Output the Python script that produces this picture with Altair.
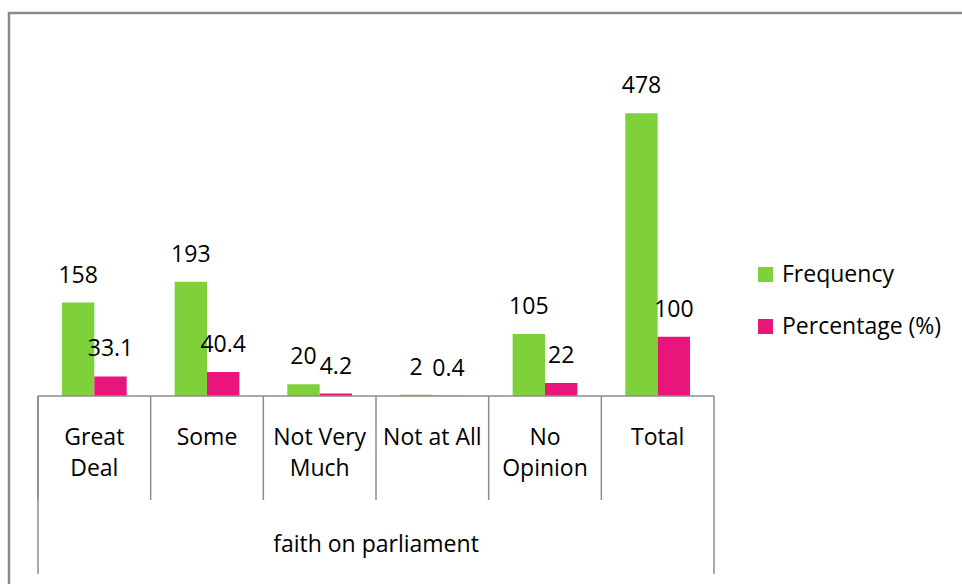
import altair as alt
import pandas as pd

categories = ["Great Deal", "Some", "Not Very Much", "Not at All", "No Opinion", "Total"]
category_lines = [["Great", "Deal"], ["Some"], ["Not Very", "Much"], ["Not at All"], ["No", "Opinion"], ["Total"]]
series = ["Frequency", "Percentage (%)"]
frequency = [158, 193, 20, 2, 105, 478]
percentage = [33.1, 40.4, 4.2, 0.4, 22, 100]
group_title = "faith on parliament"

FONT = "Open Sans"
FS = 23
GRAY = "#8c8c8c"
W, H = 676, 355

rows = []
for c, f, p in zip(categories, frequency, percentage):
    rows.append({"category": c, "series": series[0], "value": f, "label": f"{f:g}"})
    rows.append({"category": c, "series": series[1], "value": p, "label": f"{p:g}"})
df = pd.DataFrame(rows)
cat_df = pd.DataFrame({"category": categories, "lines": category_lines})

xscale = alt.Scale(domain=categories, paddingInner=0, paddingOuter=0)
yscale = alt.Scale(domain=[0, 600])
x_plain = alt.X("category:N", scale=xscale, axis=None)
xoff = alt.XOffset("series:N", scale=alt.Scale(domain=series, paddingInner=0, paddingOuter=0.74))

bars = alt.Chart(df).mark_bar().encode(
    x=x_plain,
    xOffset=xoff,
    y=alt.Y("value:Q", scale=yscale, axis=None),
    color=alt.Color("series:N", scale=alt.Scale(domain=series, range=["#7FD13B", "#EA157A"]),
                    legend=alt.Legend(orient="none", legendX=716, legendY=222, title=None,
                                      symbolType="square", symbolSize=225, symbolStrokeWidth=0,
                                      labelFont=FONT, labelFontSize=FS, labelColor="#000000",
                                      rowPadding=28, padding=0, labelOffset=5)),
)

labels = alt.Chart(df).mark_text(font=FONT, fontSize=FS, color="#000000", baseline="middle", dy=-27).encode(
    x=x_plain,
    xOffset=xoff,
    y=alt.Y("value:Q", scale=yscale, axis=None),
    text="label:N",
)

cat_text = alt.Chart(cat_df).mark_text(font=FONT, fontSize=FS, color="#000000", baseline="middle",
                                       lineHeight=31).encode(
    x=x_plain,
    y=alt.value(H + 42),
    text="lines",
)

seps = alt.Chart(cat_df).mark_rule(color=GRAY, strokeWidth=1.5).encode(
    x=alt.X("category:N", scale=xscale, bandPosition=0, axis=None),
    y=alt.value(H),
    y2=alt.value(H + 104),
)

one = alt.Data(values=[{"a": 1}])
outer_left = alt.Chart(one).mark_rule(color=GRAY, strokeWidth=1.5).encode(
    x=alt.value(0), y=alt.value(H), y2=alt.value(H + 178))
outer_right = alt.Chart(one).mark_rule(color=GRAY, strokeWidth=1.5).encode(
    x=alt.value(W), y=alt.value(H), y2=alt.value(H + 178))
baseline = alt.Chart(one).mark_rule(color=GRAY, strokeWidth=1.5).encode(
    x=alt.value(0), x2=alt.value(W), y=alt.value(H))

title = alt.Chart(alt.Data(values=[{"t": group_title}])).mark_text(
    font=FONT, fontSize=FS, color="#000000", baseline="middle").encode(
    x=alt.value(W / 2), y=alt.value(H + 149), text="t:N")

border = alt.Chart(one).mark_rect(
    fill="transparent", stroke=GRAY, strokeWidth=2.5).encode(
    x=alt.value(-29), y=alt.value(-28), x2=alt.value(W + 270), y2=alt.value(H + 220))

chart = alt.layer(border, seps, outer_left, outer_right, bars, baseline, labels, cat_text, title).properties(
    width=W, height=H,
    background="white",
    padding={"left": 38, "top": 41, "right": 248, "bottom": 188},
    autosize=alt.AutoSizeParams(type="none"),
).configure_view(stroke=None)

chart.save("out.html", embed_options={"renderer": "svg", "actions": False})
